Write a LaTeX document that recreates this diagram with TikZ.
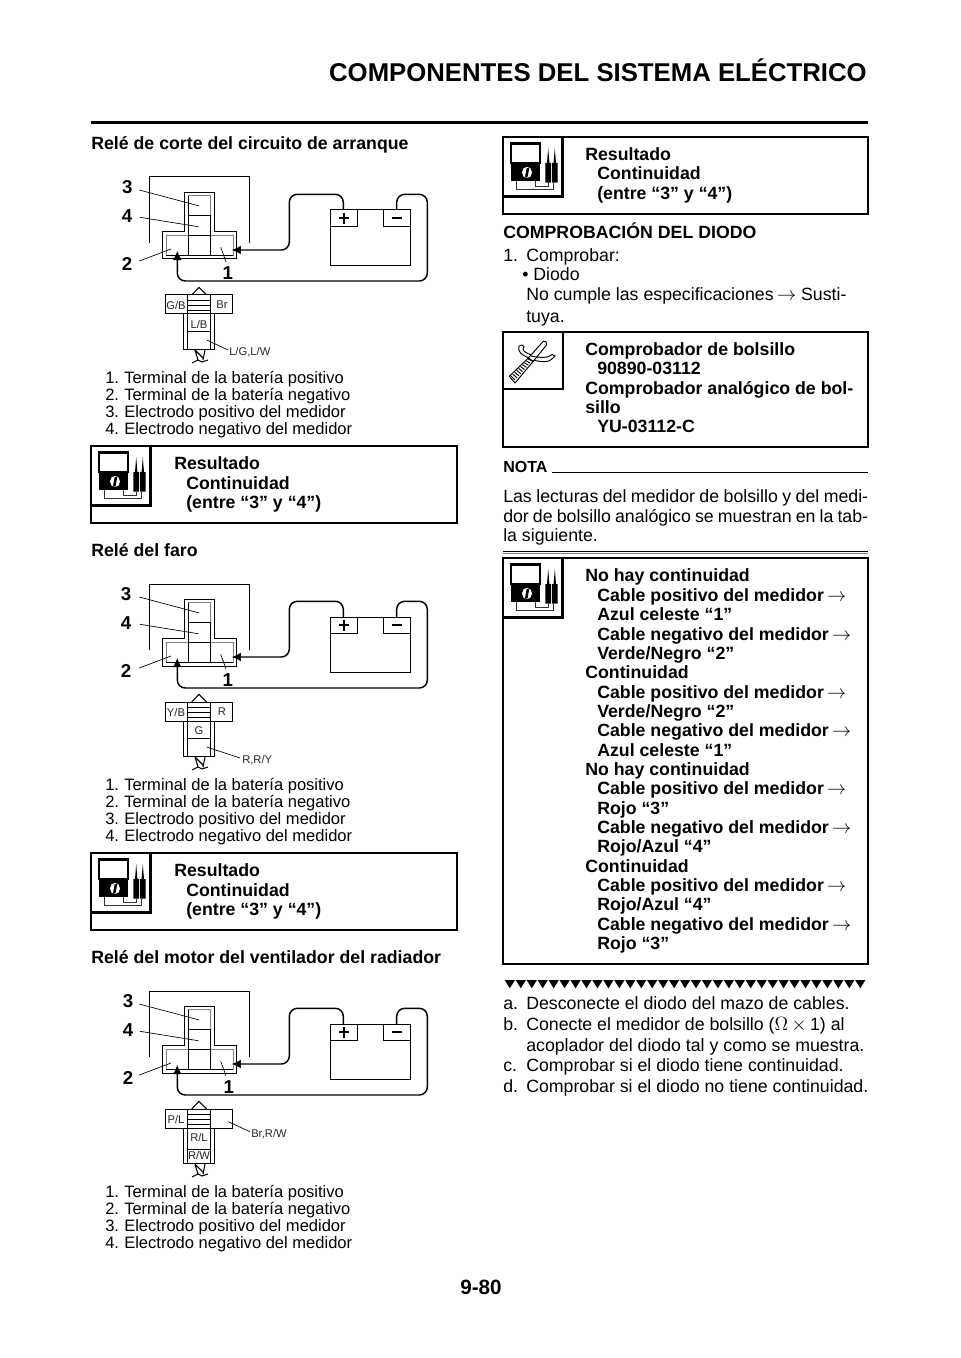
\documentclass[tikz,border=0pt]{standalone}
\usepackage{fontspec}
\setmainfont{Liberation Sans}
\usetikzlibrary{arrows.meta}
\tikzset{
  ln/.style={line width=0.75pt,black},
  hvy/.style={line width=1.9pt,black},
  wire/.style={line width=1.1pt,black,rounded corners=6pt},
  body/.style={anchor=base west,inner sep=0pt,font=\fontsize{13.3}{15}\selectfont},
  bold/.style={body,font=\fontsize{13.3}{15}\selectfont\bfseries},
  small/.style={anchor=base west,inner sep=0pt,font=\fontsize{12.4}{14}\selectfont},
  tiny/.style={inner sep=0pt,font=\fontsize{8.4}{10}\selectfont,text=black!85},
  num/.style={inner sep=0pt,font=\fontsize{14}{16}\selectfont\bfseries},
}
\newcommand\Tb[3]{\node[body] (t#1-#2) at (#1,#2+6.5) {#3};}
\newcommand\Tf[3]{\node[bold] (t#1-#2) at (#1,#2+6.5) {#3};}
\newcommand\Ts[4]{\node[small] (t#1-#2) at (#1,#2+6) {\makebox[14.25pt][l]{#3}#4};}
\newcommand\Tj[3]{\node[body] (t#1-#2) at (#1,#2+6.5) {\hbox to 273.7pt{\spaceskip=.2em plus 1fil\relax #3}};}
\newcommand\Tl[4]{\node[body] (t#1-#2) at (#1,#2+6.5) {\makebox[17.25pt][l]{#3}#4};}
\newcommand\Ar{\hspace{-1.2pt}$\rightarrow$}
% meter icon: shift to square top-left
\newcommand\meterbox[2]{%
 \begin{scope}[shift={(#1,#2)}]
  \draw[hvy] (0,0) rectangle (59.5,59.5);
  \draw[line width=1.6pt] (8,6.5) rectangle (37.3,26.3);
  \fill (8,26.3) rectangle (37.3,44);
  \fill[white] (24,35.5) ellipse (5 and 5.7);
  \draw[line width=1.9pt] (23.2,40.5) -- (25,31);
  \fill (42.3,45.7) -- (42.3,26) -- (44,26) -- (45.2,11) -- (46.4,26) -- (48,26) -- (48,45.7) -- cycle;
  \fill (49,45.7) -- (49,26) -- (50.6,26) -- (51.8,11) -- (53,26) -- (54.5,26) -- (54.5,45.7) -- cycle;
  \draw[line width=0.6pt,black!80] (13.3,44) -- (13.3,52.3) -- (50.7,52.3) -- (50.7,45.7);
  \draw[line width=0.6pt,black!80] (32.3,44) -- (32.3,49) -- (45,49) -- (45,45.7);
 \end{scope}}
% relay diagram
\newcommand\relaybase{%
  \draw[ln] (149,243) -- (149,177) -- (249,177) -- (249,243);
  \draw[ln,fill=white] (162.7,231.7) -- (184.7,231.7) -- (184.7,192.3) -- (214.7,192.3) -- (214.7,231.7) -- (236.7,231.7) -- (236.7,259) -- (162.7,259) -- cycle;
  \draw[line width=0.6pt,black!50] (166.3,235) -- (188.3,235) -- (188.3,195.7) -- (210.7,195.7) -- (210.7,235) -- (233.3,235) -- (233.3,255.7) -- (166.3,255.7) -- cycle;
  \draw[line width=0.55pt] (188.3,215.7) -- (210.7,215.7);
  \draw[line width=0.55pt] (188.3,195.7) -- (188.3,255.7) (210.7,215.7) -- (210.7,255.7);
  \draw[line width=0.55pt] (188.3,235) -- (210.7,235) (166.3,255.7) -- (233.3,255.7);
  % battery
  \draw[ln] (330,210) rectangle (410.7,265.7);
  \draw[line width=0.55pt] (330,226.7) -- (357,226.7) -- (357,210);
  \draw[line width=0.55pt] (383.3,210) -- (383.3,226.7) -- (410.7,226.7);
  \draw[line width=1.5pt] (338.5,218.3) -- (349,218.3) (343.7,213) -- (343.7,223.6);
  \draw[line width=1.5pt] (392,218.3) -- (402,218.3);
  % wires
  \draw[wire,-{Latex[length=7pt,width=6.5pt]}] (343.3,210) -- (343.3,194.3) -- (289.3,194.3) -- (289.3,250) -- (231.5,250);
  \draw[wire,-{Latex[length=7pt,width=6.5pt]}] (396.7,210) -- (396.7,194.3) -- (427.3,194.3) -- (427.3,281) -- (177.3,281) -- (177.3,250.7);
  % leaders
  \draw[line width=0.5pt] (139.3,190) -- (199.3,206);
  \draw[line width=0.5pt] (140,217.3) -- (198.3,226.7);
  \draw[line width=0.5pt] (139.3,261) -- (171,249);
  \draw[line width=0.5pt] (226,261.7) -- (220.7,247.3);
  % coupler outline
  \draw[ln,line join=round] (191.7,295) -- (199,287.3) -- (206.7,295);
  \draw[ln,fill=white] (165,295) rectangle (232.7,314);
  \draw[ln] (183,314) -- (183,349.3) -- (214.7,349.3) -- (214.7,314);
  \draw[ln] (187.3,295) -- (187.3,349.3) (210,295) -- (210,349.3);
  \foreach \yy in {300.7,305.7,310.7} \draw[ln] (187.3,\yy) -- (210,\yy);
  \draw[ln] (187.3,314) -- (210,314);
  % twisted harness end
  \draw[line width=0.8pt] (195,350) -- (198,360) (205,350) -- (203,360) (195,350) -- (203,358)
     (192,363) -- (198,360) -- (202,362) -- (208,360);
}
\begin{document}
\begin{tikzpicture}[x=0.75pt,y=-0.75pt]
\useasboundingbox (0,0) rectangle (960,1358);
\fill[white] (0,0) rectangle (960,1358);
% header
\node[anchor=base east,inner sep=0pt,font=\fontsize{19.3}{22}\selectfont\bfseries] (title) at (867,82) {COMPONENTES DEL SISTEMA ELÉCTRICO};
\draw[line width=1.9pt] (91,122.5) -- (868,122.5);
\node[anchor=base,inner sep=0pt,font=\fontsize{15.5}{18}\selectfont\bfseries] (page) at (481,1294) {9-80};
% LEFT
\Tf{91}{143}{Relé de corte del circuito de arranque}
\relaybase
\node[num] (n31) at (127.3,187.3) {3};
\node[num] (n41) at (127,215.7) {4};
\node[num] (n21) at (127,264) {2};
\node[num] (n11) at (227.7,272.7) {1};
\node[tiny] (c1a) at (176,305) {G/B};
\node[tiny] (c1b) at (222,305) {Br};
\node[tiny] (c1c) at (199,324) {L/B};
\node[tiny,anchor=west] (c1d) at (229,352.5) {L/G,L/W};
\draw[ln] (187.3,331.7) -- (210,331.7);
\draw[line width=0.5pt] (206.7,340) -- (228.3,350);
\Ts{105}{377}{1.}{Terminal de la batería positivo}
\Ts{105}{394}{2.}{Terminal de la batería negativo}
\Ts{105}{411}{3.}{Electrodo positivo del medidor}
\Ts{105}{428}{4.}{Electrodo negativo del medidor}
\draw[hvy] (91,446) rectangle (457,523);
\meterbox{91}{446}
\Tf{174}{463}{Resultado}
\Tf{186}{483}{Continuidad}
\Tf{186}{502}{(entre “3” y “4”)}
\Tf{91}{550}{Relé del faro}
\begin{scope}[shift={(0,407)}]
\relaybase
\node[num] (n32) at (126,187.3) {3};
\node[num] (n42) at (126,215.7) {4};
\node[num] (n22) at (126,264) {2};
\node[num] (n12) at (227.7,272.7) {1};
\node[tiny] (c2a) at (176,305) {Y/B};
\node[tiny] (c2b) at (222,305) {R};
\node[tiny] (c2c) at (199,324) {G};
\node[tiny,anchor=west] (c2d) at (242,353) {R,R/Y};
\draw[ln] (187.3,331.7) -- (210,331.7);
\draw[line width=0.5pt] (206.7,340) -- (240,351);
\end{scope}
\Ts{105}{784}{1.}{Terminal de la batería positivo}
\Ts{105}{801}{2.}{Terminal de la batería negativo}
\Ts{105}{818}{3.}{Electrodo positivo del medidor}
\Ts{105}{835}{4.}{Electrodo negativo del medidor}
\draw[hvy] (91,853) rectangle (457,930);
\meterbox{91}{853}
\Tf{174}{870}{Resultado}
\Tf{186}{890}{Continuidad}
\Tf{186}{909}{(entre “3” y “4”)}
\Tf{91}{957}{Relé del motor del ventilador del radiador}
\begin{scope}[shift={(0,814)}]
\relaybase
\node[num] (n33) at (128,187.3) {3};
\node[num] (n43) at (128,215.7) {4};
\node[num] (n23) at (128,264) {2};
\node[num] (n13) at (228.7,272.7) {1};
\node[tiny] (c3a) at (176,305) {P/L};
\node[tiny] (c3c) at (199,323) {R/L};
\node[tiny] (c3e) at (199,341) {R/W};
\node[tiny,anchor=west] (c3d) at (251,320) {Br,R/W};
\draw[ln] (187.3,335) -- (210,335);
\draw[line width=0.5pt] (228.3,307.7) -- (250,317.7);
\end{scope}
\Ts{105}{1191}{1.}{Terminal de la batería positivo}
\Ts{105}{1208}{2.}{Terminal de la batería negativo}
\Ts{105}{1225}{3.}{Electrodo positivo del medidor}
\Ts{105}{1242}{4.}{Electrodo negativo del medidor}
% RIGHT
\draw[hvy] (503,137) rectangle (868,214);
\meterbox{503}{137}
\Tf{585}{154}{Resultado}
\Tf{597}{173}{Continuidad}
\Tf{597}{193}{(entre “3” y “4”)}
\Tf{503}{232}{COMPROBACIÓN DEL DIODO}
\Tl{503}{255}{1.}{Comprobar:}
\Tb{522}{274}{• Diodo}
\Tb{526}{294}{No cumple las especificaciones \Ar\ Susti-}
\Tb{526}{316}{tuya.}
\draw[hvy] (503,332) rectangle (868,447);
\draw[hvy] (503,332) rectangle (563,389);
% tool icon
\draw[line width=0.7pt,fill=white] (509.3,376.3) -- (528.3,358) -- (533.3,361.3) -- (515,383) -- cycle;
\foreach \i in {0,1,...,9} \draw[line width=0.7pt] ({511+\i*1.9},{376-\i*1.9}) -- ({515+\i*1.9},{380-\i*2.1});
\draw[line width=0.7pt] (528.3,358) -- (543.3,341.3) .. controls (545,340) and (547.5,342.5) .. (546.7,344.7) -- (533.3,361.3);
\draw[line width=0.7pt] (533.3,360) .. controls (540,362) and (550,363) .. (553,358) -- (555,356) -- (552,354.5) .. controls (549,358) and (540,358) .. (531,356);
\draw[line width=0.7pt] (530,358.5) .. controls (522,355) and (517,352) .. (519,346) -- (522,345) -- (524,346.5) .. controls (521,350) and (525,353) .. (532,355);
\Tf{585}{349}{Comprobador de bolsillo}
\Tf{597}{368}{90890-03112}
\Tf{585}{388}{Comprobador analógico de bol-}
\Tf{585}{407}{sillo}
\Tf{597}{426}{YU-03112-C}
\node[anchor=base west,inner sep=0pt,font=\fontsize{12}{14}\selectfont\bfseries] (nota) at (503,472) {NOTA};
\draw[line width=0.5pt] (552,472.5) -- (868,472.5);
\Tj{503}{496}{Las lecturas del medidor de bolsillo y del medi-}
\Tj{503}{516}{dor de bolsillo analógico se muestran en la tab-}
\Tb{503}{535}{la siguiente.}
\draw[line width=0.5pt] (503,551) -- (868,551);
\draw[line width=0.4pt,black!50] (503,553) -- (868,553);
\draw[hvy] (503,558) rectangle (868,964);
\meterbox{503}{558}
\Tf{585}{575}{No hay continuidad}
\Tf{597}{595}{Cable positivo del medidor \Ar}
\Tf{597}{614}{Azul celeste “1”}
\Tf{597}{634}{Cable negativo del medidor \Ar}
\Tf{597}{653}{Verde/Negro “2”}
\Tf{585}{672}{Continuidad}
\Tf{597}{692}{Cable positivo del medidor \Ar}
\Tf{597}{711}{Verde/Negro “2”}
\Tf{597}{730}{Cable negativo del medidor \Ar}
\Tf{597}{750}{Azul celeste “1”}
\Tf{585}{769}{No hay continuidad}
\Tf{597}{788}{Cable positivo del medidor \Ar}
\Tf{597}{808}{Rojo “3”}
\Tf{597}{827}{Cable negativo del medidor \Ar}
\Tf{597}{846}{Rojo/Azul “4”}
\Tf{585}{866}{Continuidad}
\Tf{597}{885}{Cable positivo del medidor \Ar}
\Tf{597}{904}{Rojo/Azul “4”}
\Tf{597}{924}{Cable negativo del medidor \Ar}
\Tf{597}{943}{Rojo “3”}
\foreach \i in {0,...,32} \fill ({504.7+\i*10.95},980) -- ({515+\i*10.95},980) -- ({509.85+\i*10.95},988.3) -- cycle;
\Tl{503}{1003}{a.}{Desconecte el diodo del mazo de cables.}
\Tl{503}{1024}{b.}{Conecte el medidor de bolsillo ($\Omega$\hspace{2.6pt}$\times$\hspace{2.6pt}1) al}
\Tb{526}{1045}{acoplador del diodo tal y como se muestra.}
\Tl{503}{1065}{c.}{Comprobar si el diodo tiene continuidad.}
\Tl{503}{1086}{d.}{Comprobar si el diodo no tiene continuidad.}
\end{tikzpicture}
\end{document}
